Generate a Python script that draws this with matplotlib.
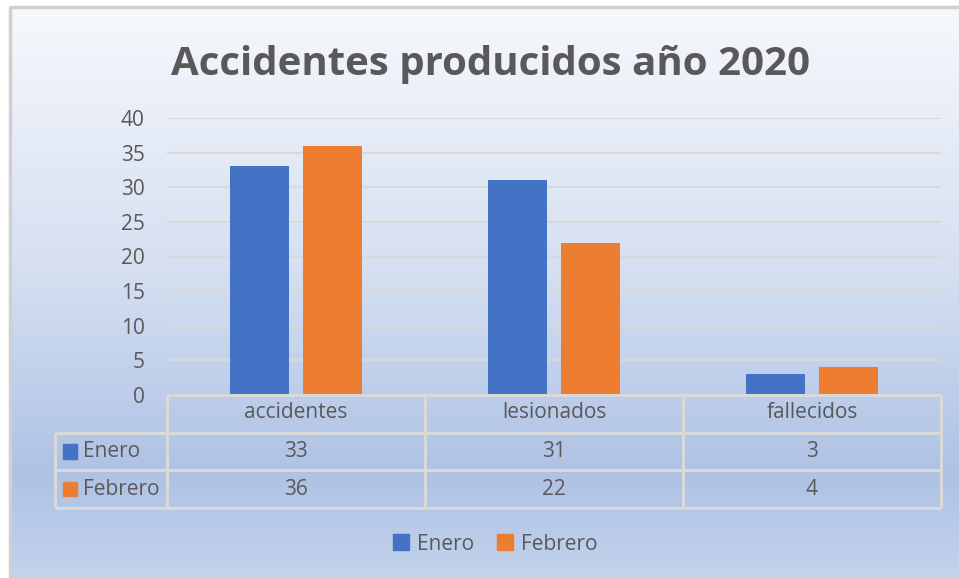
import numpy as np
import matplotlib.pyplot as plt
from matplotlib.colors import LinearSegmentedColormap
from matplotlib.patches import Patch

categories = ["accidentes", "lesionados", "fallecidos"]
series_names = ["Enero", "Febrero"]
enero = [33, 31, 3]
febrero = [36, 22, 4]
y_ticks = [0, 5, 10, 15, 20, 25, 30, 35, 40]

BLUE = "#4472C4"
ORANGE = "#ED7D31"
TXT = "#595959"
GRID = "#D9D9D9"
FONT = ["Open Sans", "DejaVu Sans"]
FS = 15

W, H = 959, 578
fig = plt.figure(figsize=(W / 100, H / 100), dpi=100)
fig.patch.set_facecolor("white")


def box(x0, y0, x1, y1):
    # pixel box (top-left origin) -> figure fraction rect
    return [x0 / W, 1 - y1 / H, (x1 - x0) / W, (y1 - y0) / H]


# gradient background of the chart area
bg = fig.add_axes(box(10, 7, W, H), zorder=0)
cmap = LinearSegmentedColormap.from_list(
    "bg",
    [(0.0, "#F6F8FC"), (0.45, "#D6E0F1"), (0.82, "#AEC2E5"), (1.0, "#C3D3EC")],
)
grad = np.linspace(0, 1, 256).reshape(-1, 1)
bg.imshow(grad, aspect="auto", cmap=cmap, extent=[0, 1, 0, 1], origin="upper")
bg.set_xlim(0, 1)
bg.set_ylim(0, 1)
bg.axis("off")
bg.plot([0, 0, 1], [0, 1, 1], color="#D0D0D0", lw=2.5, clip_on=False)

fig.text(490 / W, 1 - 75 / H, "Accidentes producidos año 2020", ha="center",
         va="baseline", fontsize=29, fontweight="bold", color=TXT, family=FONT)

# main plot
ax = fig.add_axes(box(167, 118, 941, 395), zorder=2)
ax.set_facecolor("none")
x = np.arange(len(categories))
bw = 0.225
off = (bw + 0.058) / 2
ax.bar(x - off, enero, bw, color=BLUE, zorder=3)
ax.bar(x + off, febrero, bw, color=ORANGE, zorder=3)
ax.set_xlim(-0.5, 2.5)
ax.set_ylim(0, 40)
ax.set_yticks(y_ticks)
ax.set_yticklabels([str(t) for t in y_ticks], family=FONT)
ax.tick_params(axis="y", length=0, pad=16, labelsize=FS, labelcolor=TXT)
ax.tick_params(axis="x", bottom=False, labelbottom=False)
ax.yaxis.grid(True, color=GRID, lw=1.5, zorder=0)
for s in ax.spines.values():
    s.set_visible(False)

# data table below the plot
tx0 = -0.5 - 112 / 258
tab = fig.add_axes(box(55, 395, 941, 508), zorder=2)
tab.set_xlim(tx0, 2.5)
tab.set_ylim(3, 0)
tab.axis("off")
lk = dict(color=GRID, lw=2.2, solid_capstyle="butt", clip_on=False)
tab.plot([-0.5, 2.5], [0, 0], **lk)
for r in (1, 2, 3):
    tab.plot([tx0, 2.5], [r, r], **lk)
tab.plot([tx0, tx0], [1, 3], **lk)
for c in (-0.5, 0.5, 1.5, 2.5):
    tab.plot([c, c], [0, 3], **lk)
tk = dict(ha="center", va="center", fontsize=FS, color=TXT, family=FONT)
for i, cat in enumerate(categories):
    tab.text(i, 0.47, cat, **tk)
    tab.text(i, 1.5, str(enero[i]), **tk)
    tab.text(i, 2.5, str(febrero[i]), **tk)
for r, (name, col) in enumerate(zip(series_names, [BLUE, ORANGE])):
    tab.add_patch(plt.Rectangle((tx0 + 0.03, r + 1.5 - 0.19), 0.055, 0.38,
                                color=col, clip_on=False))
    tab.text(tx0 + 0.107, r + 1.5, name, ha="left", va="center",
             fontsize=FS, color=TXT, family=FONT)

handles = [Patch(color=BLUE, label=series_names[0]),
           Patch(color=ORANGE, label=series_names[1])]
leg = fig.legend(handles=handles, loc="center", bbox_to_anchor=(495 / W, 1 - 544 / H),
                 ncol=2, frameon=False, handlelength=0.8, handleheight=0.8,
                 handletextpad=0.35, columnspacing=1.1,
                 prop={"family": FONT, "size": FS})
for t in leg.get_texts():
    t.set_color(TXT)

fig.savefig("out.png", dpi=100)
